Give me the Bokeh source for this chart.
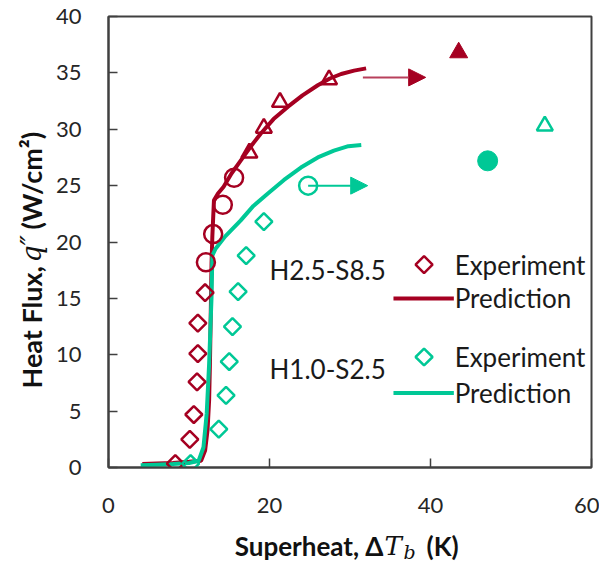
import numpy as np
from bokeh.plotting import figure
from bokeh.layouts import row, column
from bokeh.models import Label, Arrow, NormalHead, FixedTicker
from bokeh.embed import file_html
from bokeh.resources import INLINE

RED = "#A50021"
GREEN = "#00C896"
INK = "#111111"

# ---- Data ----
red_dia_x = [8.3, 10.1, 10.6, 11.0, 11.1, 11.1, 12.0]
red_dia_y = [0.35, 2.5, 4.7, 7.6, 10.1, 12.8, 15.5]
red_circ_x = [12.1, 13.0, 14.2, 15.6]
red_circ_y = [18.2, 20.7, 23.3, 25.7]
red_tri_x = [17.5, 19.3, 21.3, 27.4]
red_tri_y = [27.9, 30.1, 32.4, 34.4]
red_fill_tri_x = [43.5]
red_fill_tri_y = [36.8]
red_arrow = dict(x0=31.6, y0=34.6, x1=39.4, y1=34.6)

red_pred_x = [4.2, 6.0, 8.0, 10.0, 11.5, 12.0, 12.3, 12.5, 12.6, 12.7, 12.8, 12.9, 13.1,
              13.6, 14.3, 15.3, 16.4, 17.6, 18.9, 20.5, 22.3, 24.1, 26.0, 27.5, 28.9, 30.5, 32.0]
red_pred_y = [0.3, 0.35, 0.4, 0.5, 0.6, 1.5, 3.3, 6.0, 9.2, 13.5, 18.1, 20.5, 23.7,
              24.3, 24.9, 26.1, 27.2, 28.4, 29.6, 30.9, 32.0, 33.0, 33.9, 34.5, 34.9, 35.2, 35.4]

grn_dia_x = [10.2, 13.7, 14.6, 15.0, 15.4, 16.1, 17.1, 19.3]
grn_dia_y = [0.35, 3.4, 6.4, 9.4, 12.5, 15.6, 18.8, 21.8]
grn_circ_x = [24.8]
grn_circ_y = [25.0]
grn_fill_circ_x = [47.1]
grn_fill_circ_y = [27.2]
grn_tri_x = [54.2]
grn_tri_y = [30.3]
grn_arrow = dict(x0=24.8, y0=25.0, x1=32.2, y1=25.0)

grn_pred_x = [4.0, 6.0, 8.0, 10.0, 11.2, 11.8, 12.2, 12.5, 12.8, 12.9, 13.3, 14.5, 16.4,
              18.0, 19.8, 21.8, 23.9, 26.0, 28.0, 29.8, 31.4]
grn_pred_y = [0.2, 0.25, 0.3, 0.4, 0.6, 1.8, 4.8, 9.2, 15.1, 18.8, 19.4, 20.5, 21.9,
              23.2, 24.3, 25.5, 26.6, 27.5, 28.1, 28.5, 28.6]

x_ticks = [0, 20, 40, 60]
y_ticks = [0, 5, 10, 15, 20, 25, 30, 35, 40]

FONT = "Lato"
TOTAL_W, TOTAL_H = 599, 563
YSTRIP_W = 50          # strip holding the rotated y title
MAIN_W = TOTAL_W - YSTRIP_W
MAIN_H = 525
XSTRIP_H = TOTAL_H - MAIN_H
BL, BR = 108 - YSTRIP_W, 8   # main frame spans page x 108..591

p = figure(width=MAIN_W, height=MAIN_H, x_range=(0, 60), y_range=(0, 40),
           output_backend="svg", toolbar_location=None,
           min_border_left=BL, min_border_right=BR, min_border_top=16, min_border_bottom=58)
p.grid.visible = False
p.background_fill_color = "white"
p.border_fill_color = "white"
p.outline_line_color = "#404040"
p.outline_line_width = 2

for ax in (p.xaxis[0], p.yaxis[0]):
    ax.axis_line_color = "#404040"
    ax.axis_line_width = 2
    ax.major_tick_in = 9
    ax.major_tick_out = 0
    ax.major_tick_line_color = "#404040"
    ax.major_tick_line_width = 1.5
    ax.minor_tick_line_color = None
    ax.major_label_text_font = FONT
    ax.major_label_text_font_size = "22px"
    ax.major_label_text_color = "#262626"
p.xaxis[0].ticker = FixedTicker(ticks=x_ticks)
p.yaxis[0].ticker = FixedTicker(ticks=y_ticks)
p.xaxis[0].major_label_standoff = 30
p.yaxis[0].major_label_standoff = 27

# prediction lines
p.line(red_pred_x, red_pred_y, line_color=RED, line_width=4)
p.line(grn_pred_x, grn_pred_y, line_color=GREEN, line_width=4)

# arrows
p.add_layout(Arrow(end=NormalHead(size=17, fill_color=RED, line_color=RED),
                   x_start=red_arrow["x0"], y_start=red_arrow["y0"],
                   x_end=red_arrow["x1"], y_end=red_arrow["y1"],
                   line_color="#B8405C", line_width=2))
p.add_layout(Arrow(end=NormalHead(size=17, fill_color=GREEN, line_color=GREEN),
                   x_start=grn_arrow["x0"], y_start=grn_arrow["y0"],
                   x_end=grn_arrow["x1"], y_end=grn_arrow["y1"],
                   line_color=GREEN, line_width=2))

# experiment markers
p.scatter(red_dia_x, red_dia_y, marker="square", angle=np.pi / 4, size=12,
          fill_alpha=0, line_color=RED, line_width=2.5)
p.scatter(red_circ_x, red_circ_y, marker="circle", size=18,
          fill_alpha=0, line_color=RED, line_width=2.5)
p.scatter(red_tri_x, red_tri_y, marker="triangle", size=16,
          fill_alpha=0, line_color=RED, line_width=2.5)
p.scatter(red_fill_tri_x, red_fill_tri_y, marker="triangle", size=18,
          fill_color=RED, line_color=RED)

p.scatter(grn_dia_x, grn_dia_y, marker="square", angle=np.pi / 4, size=12,
          fill_alpha=0, line_color=GREEN, line_width=2.5)
p.scatter(grn_circ_x, grn_circ_y, marker="circle", size=18,
          fill_color="white", line_color=GREEN, line_width=2.5)
p.scatter(grn_fill_circ_x, grn_fill_circ_y, marker="circle", size=20,
          fill_color=GREEN, line_color=GREEN)
p.scatter(grn_tri_x, grn_tri_y, marker="triangle", size=16,
          fill_alpha=0, line_color=GREEN, line_width=2.5)

# ---- in-plot legend ----
LEG_FS = "26px"
legend_groups = [
    dict(name="H2.5-S8.5", color=RED, name_y=17.5, exp_y=18.0, pred_y=15.0),
    dict(name="H1.0-S2.5", color=GREEN, name_y=8.7, exp_y=9.8, pred_y=6.6),
]
for g in legend_groups:
    p.add_layout(Label(x=20.0, y=g["name_y"], text=g["name"], text_font=FONT,
                       text_font_size=LEG_FS, text_baseline="middle", text_color="#1a1a1a"))
    p.scatter([39.2], [g["exp_y"]], marker="square", angle=np.pi / 4, size=12,
              fill_alpha=0, line_color=g["color"], line_width=2.5)
    p.add_layout(Label(x=43.0, y=g["exp_y"], text="Experiment", text_font=FONT,
                       text_font_size=LEG_FS, text_baseline="middle", text_color="#1a1a1a"))
    p.line([35.4, 42.9], [g["pred_y"], g["pred_y"]], line_color=g["color"], line_width=4)
    p.add_layout(Label(x=43.0, y=g["pred_y"], text="Prediction", text_font=FONT,
                       text_font_size=LEG_FS, text_baseline="middle", text_color="#1a1a1a"))


def strip(width, height, bl=0, br=0):
    f = figure(width=width, height=height, output_backend="svg", toolbar_location=None,
               min_border=0, min_border_left=bl, min_border_right=br,
               x_axis_type=None, y_axis_type=None)
    f.grid.visible = False
    f.outline_line_color = None
    f.background_fill_color = "white"
    f.border_fill_color = "white"
    return f


SERIF = "DejaVu Serif"
# ---- y title strip (rotated text, composed for bold / italic parts) ----
YT_FS = "27px"
ys = strip(YSTRIP_W, TOTAL_H)
yt_x = 31
ys.add_layout(Label(x=yt_x, y=TOTAL_H - 388, x_units="screen", y_units="screen",
                    text="Heat Flux,", text_font=FONT, text_font_size=YT_FS,
                    text_font_style="bold", text_align="left", text_baseline="middle",
                    text_color=INK, angle=np.pi / 2))
ys.add_layout(Label(x=yt_x, y=TOTAL_H - 262, x_units="screen", y_units="screen",
                    text="q″", text_font=SERIF, text_font_size=YT_FS,
                    text_font_style="italic", text_align="left", text_baseline="middle",
                    text_color=INK, angle=np.pi / 2))
ys.add_layout(Label(x=yt_x, y=TOTAL_H - 229, x_units="screen", y_units="screen",
                    text="(W/cm²)", text_font=FONT, text_font_size=YT_FS,
                    text_font_style="bold", text_align="left", text_baseline="middle",
                    text_color=INK, angle=np.pi / 2))

# ---- x title strip (frame aligned with the main frame) ----
XT_FS = "26px"
xs = strip(MAIN_W, XSTRIP_H, BL, BR)
xt_y = TOTAL_H - 545          # from strip bottom
ox = YSTRIP_W + BL            # strip frame's left edge in page pixels
xs.add_layout(Label(x=383 - ox, y=xt_y, x_units="screen", y_units="screen",
                    text="Superheat, Δ", text_font=FONT, text_font_size=XT_FS,
                    text_font_style="bold", text_align="right", text_baseline="middle",
                    text_color=INK))
xs.add_layout(Label(x=384 - ox, y=xt_y, x_units="screen", y_units="screen",
                    text="T", text_font=SERIF, text_font_size=XT_FS,
                    text_font_style="italic", text_align="left", text_baseline="middle",
                    text_color=INK))
xs.add_layout(Label(x=403 - ox, y=xt_y - 6, x_units="screen", y_units="screen",
                    text="b", text_font=SERIF, text_font_size="19px",
                    text_font_style="italic", text_align="left", text_baseline="middle",
                    text_color=INK))
xs.add_layout(Label(x=426 - ox, y=xt_y, x_units="screen", y_units="screen",
                    text="(K)", text_font=FONT, text_font_size=XT_FS,
                    text_font_style="bold", text_align="left", text_baseline="middle",
                    text_color=INK))

layout = row(ys, column(p, xs, spacing=0), spacing=0)
open("out.html", "w").write(file_html(layout, INLINE))
